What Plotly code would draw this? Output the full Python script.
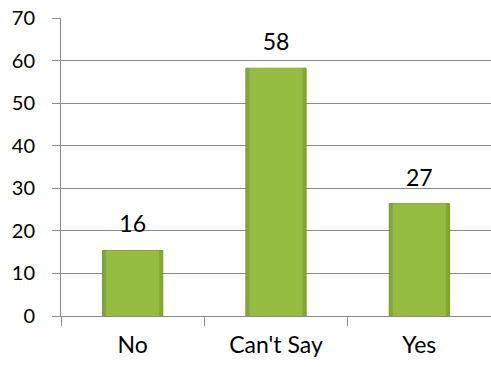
import plotly.graph_objects as go

categories = ["No", "Can't Say", "Yes"]
bar_heights = [15.4, 58.2, 26.4]
labels = ["16", "58", "27"]
y_ticks = [0, 10, 20, 30, 40, 50, 60, 70]

FONT = "Lato"
GRID = "#8c8c8c"

fig = go.Figure()
fig.add_trace(go.Bar(
    x=categories, y=bar_heights, width=0.42,
    marker=dict(color="#84a834", line=dict(color="#76962c", width=1)),
    hoverinfo="skip", showlegend=False,
))
fig.add_trace(go.Bar(
    x=categories, y=bar_heights, width=0.37,
    marker=dict(color="#96bc42", line=dict(width=0)),
    hoverinfo="skip", showlegend=False,
))
fig.add_trace(go.Scatter(
    x=categories, y=bar_heights, mode="text+markers", text=labels,
    textposition="top center",
    marker=dict(size=18, opacity=0),
    textfont=dict(family=FONT, size=23, color="#000000"),
    hoverinfo="skip", showlegend=False,
))

fig.update_layout(
    width=491, height=367, barmode="overlay",
    margin=dict(l=61, r=0, t=18, b=51),
    plot_bgcolor="white", paper_bgcolor="white",
    font=dict(family=FONT, color="#000000"),
)
fig.update_xaxes(
    type="category", tickson="boundaries", ticks="outside", ticklen=9,
    tickcolor=GRID, tickwidth=1, showline=True, linecolor=GRID, linewidth=1,
    showgrid=False, tickfont=dict(family=FONT, size=23, color="#000000"),
    ticklabelstandoff=8,
)
fig.update_yaxes(
    range=[0, 70], tickvals=y_ticks, ticks="outside", ticklen=8,
    tickcolor=GRID, tickwidth=1, showline=True, linecolor=GRID, linewidth=1,
    showgrid=True, gridcolor=GRID, gridwidth=1, zeroline=False,
    tickfont=dict(family=FONT, size=20, color="#000000"),
    ticklabelstandoff=13,
)

fig.write_html("out.html")
